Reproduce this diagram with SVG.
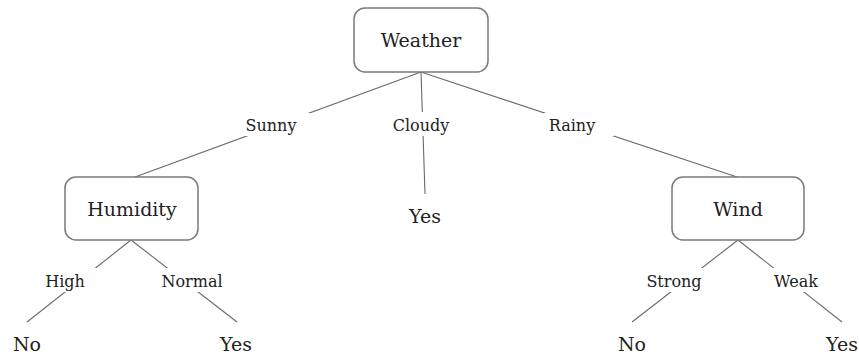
<svg xmlns="http://www.w3.org/2000/svg" width="859" height="354" viewBox="0 0 859 354">
  <style>
    .box { fill: #ffffff; stroke: #7a7a7a; stroke-width: 1.5; }
    .edge { stroke: #6a6a6a; stroke-width: 1.1; fill: none; }
    .lblbg { fill: #ffffff; }
    text { font-family: "DejaVu Serif", "Liberation Serif", serif; fill: #222222; text-anchor: middle; }
    .node { font-size: 19px; }
    .lbl { font-size: 16px; }
  </style>
  <rect width="859" height="354" fill="#ffffff"/>

  <!-- connectors, with white pads behind the branch labels -->
  <g id="connectors">
    <line class="edge" x1="421" y1="72" x2="135" y2="177"/>
    <line class="edge" x1="421" y1="72" x2="425" y2="194"/>
    <line class="edge" x1="421" y1="72" x2="737" y2="177"/>
    <line class="edge" x1="131" y1="240" x2="27" y2="322"/>
    <line class="edge" x1="131" y1="240" x2="237" y2="322"/>
    <line class="edge" x1="738" y1="240" x2="632" y2="322"/>
    <line class="edge" x1="738" y1="240" x2="842" y2="322"/>

    <rect class="lblbg" x="240" y="113" width="70" height="23"/>
    <rect class="lblbg" x="388" y="112" width="66" height="24"/>
    <rect class="lblbg" x="544" y="113" width="70" height="23"/>
    <rect class="lblbg" x="40" y="268" width="57" height="24"/>
    <rect class="lblbg" x="156" y="268" width="73" height="24"/>
    <rect class="lblbg" x="640" y="268" width="70" height="24"/>
    <rect class="lblbg" x="765" y="268" width="62" height="24"/>

    <text class="lbl" x="271" y="131">Sunny</text>
    <text class="lbl" x="421" y="131">Cloudy</text>
    <text class="lbl" x="572" y="131">Rainy</text>
    <text class="lbl" x="65" y="287">High</text>
    <text class="lbl" x="192" y="287">Normal</text>
    <text class="lbl" x="674" y="287">Strong</text>
    <text class="lbl" x="796" y="287">Weak</text>
  </g>

  <g id="weather">
    <rect class="box" x="354" y="8" width="134" height="64" rx="11"/>
    <text class="node" x="421" y="47">Weather</text>
  </g>
  <g id="humidity">
    <rect class="box" x="65" y="177" width="133" height="63" rx="11"/>
    <text class="node" x="132" y="216">Humidity</text>
  </g>
  <g id="wind">
    <rect class="box" x="672" y="177" width="132" height="63" rx="11"/>
    <text class="node" x="738" y="216">Wind</text>
  </g>
  <g id="cloudy-yes">
    <text class="node" x="425" y="223">Yes</text>
  </g>
  <g id="high-no">
    <text class="node" x="27" y="351">No</text>
  </g>
  <g id="normal-yes">
    <text class="node" x="236" y="351">Yes</text>
  </g>
  <g id="strong-no">
    <text class="node" x="632" y="351">No</text>
  </g>
  <g id="weak-yes">
    <text class="node" x="842" y="351">Yes</text>
  </g>
</svg>
